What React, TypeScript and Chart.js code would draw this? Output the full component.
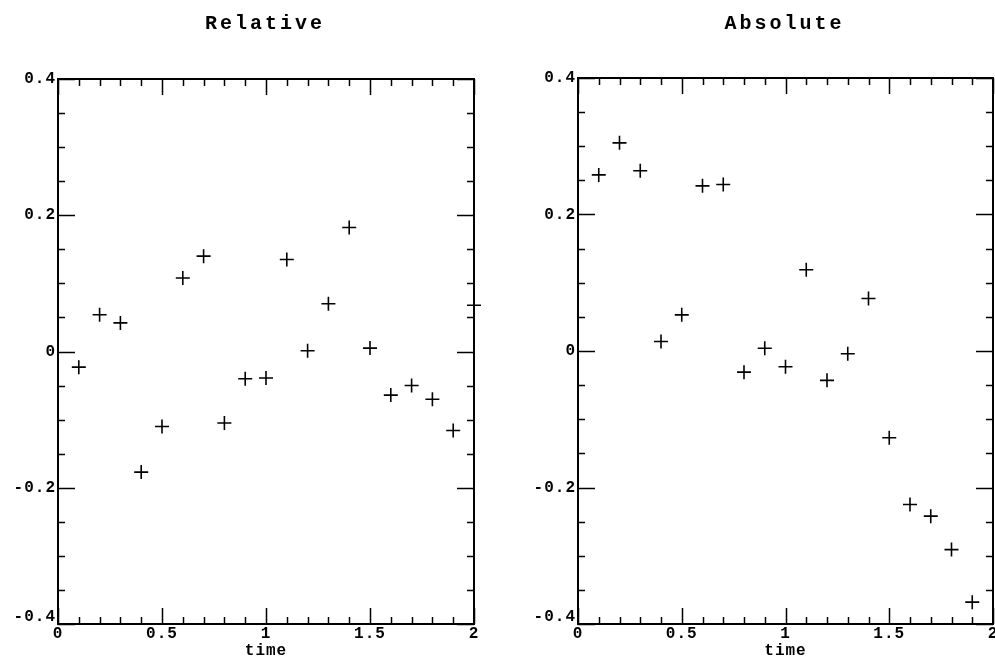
import React, { useEffect, useRef } from "react";
import { Chart, registerables } from "chart.js";

Chart.register(...registerables);

// ---- Data ----
const timeRelative = [0.1, 0.2, 0.3, 0.4, 0.5, 0.6, 0.7, 0.8, 0.9, 1.0, 1.1, 1.2, 1.3, 1.4, 1.5, 1.6, 1.7, 1.8, 1.9, 2.0];
const relativeValues = [-0.023, 0.054, 0.042, -0.177, -0.110, 0.108, 0.140, -0.105, -0.040, -0.039, 0.135, 0.001, 0.070, 0.182, 0.005, -0.064, -0.050, -0.070, -0.116, 0.068];

const timeAbsolute = [0.1, 0.2, 0.3, 0.4, 0.5, 0.6, 0.7, 0.8, 0.9, 1.0, 1.1, 1.2, 1.3, 1.4, 1.5, 1.6, 1.7, 1.8, 1.9];
const absoluteValues = [0.258, 0.305, 0.264, 0.014, 0.053, 0.242, 0.244, -0.031, 0.004, -0.023, 0.119, -0.043, -0.004, 0.077, -0.127, -0.225, -0.242, -0.291, -0.368];

const xMajorTicks = [0, 0.5, 1, 1.5, 2];
const xTickLabels = ["0", "0.5", "1", "1.5", "2"];
const yMajorTicks = [-0.4, -0.2, 0, 0.2, 0.4];
const yTickLabels = ["-0.4", "-0.2", "0", "0.2", "0.4"];
const xMinorStep = 0.1;
const yMinorStep = 0.05;
const panelTitles = ["Relative", "Absolute"];
const xAxisTitle = "time";

const FONT = '"Liberation Mono", "DejaVu Sans Mono", monospace';

const framePlugin = {
  id: "frameTicks",
  afterDraw(chart: any, _args: any, opts: any) {
    const ctx = chart.ctx;
    const { left, right, top, bottom } = chart.chartArea;
    const xs = chart.scales.x;
    const ys = chart.scales.y;
    ctx.save();
    ctx.strokeStyle = "#000";
    ctx.fillStyle = "#000";
    // frame
    ctx.lineWidth = 2;
    ctx.strokeRect(left, top, right - left, bottom - top);
    ctx.lineWidth = 1.5;
    // y ticks
    const nY = Math.round((ys.max - ys.min) / yMinorStep);
    for (let i = 0; i <= nY; i++) {
      const v = ys.min + i * yMinorStep;
      const major = yMajorTicks.some((m) => Math.abs(m - v) < 1e-6);
      const len = major ? 17 : 7;
      const py = Math.round(ys.getPixelForValue(v)) + 0.5;
      ctx.beginPath();
      ctx.moveTo(left, py);
      ctx.lineTo(left + len, py);
      ctx.moveTo(right, py);
      ctx.lineTo(right - len, py);
      ctx.stroke();
    }
    // x ticks
    const nX = Math.round((xs.max - xs.min) / xMinorStep);
    for (let i = 0; i <= nX; i++) {
      const v = xs.min + i * xMinorStep;
      const major = xMajorTicks.some((m) => Math.abs(m - v) < 1e-6);
      const len = major ? 16 : 7;
      const px = Math.round(xs.getPixelForValue(v)) + 0.5;
      ctx.beginPath();
      ctx.moveTo(px, bottom);
      ctx.lineTo(px, bottom - len);
      ctx.moveTo(px, top);
      ctx.lineTo(px, top + len);
      ctx.stroke();
    }
    // labels
    ctx.font = `bold 16px ${FONT}`;
    (ctx as any).letterSpacing = "1px";
    ctx.textAlign = "right";
    ctx.textBaseline = "middle";
    yMajorTicks.forEach((v, i) => {
      let py = ys.getPixelForValue(v);
      if (i === 0) py -= 7;
      ctx.fillText(yTickLabels[i], left - 2, py);
    });
    ctx.textAlign = "center";
    xMajorTicks.forEach((v, i) => {
      const px = xs.getPixelForValue(v);
      ctx.fillText(xTickLabels[i], px, bottom + 10);
    });
    ctx.fillText(xAxisTitle, (left + right) / 2, bottom + 27);
    // title
    ctx.font = `bold 20px ${FONT}`;
    (ctx as any).letterSpacing = "3px";
    ctx.fillText(opts.title, (left + right) / 2 - 1, 24);
    ctx.restore();
  },
};

function Panel(props: { title: string; xs: number[]; ys: number[]; left: number; width: number; padding: any }) {
  const ref = useRef<HTMLCanvasElement>(null);
  useEffect(() => {
    if (!ref.current) return;
    const chart = new Chart(ref.current, {
      type: "scatter",
      data: {
        datasets: [
          {
            data: props.xs.map((x, i) => ({ x, y: props.ys[i] })),
            pointStyle: "cross",
            pointRadius: 7,
            pointBorderWidth: 1.6,
            borderColor: "#000",
            backgroundColor: "#000",
            clip: false as any,
          },
        ],
      },
      options: {
        animation: false,
        responsive: false,
        devicePixelRatio: 1,
        layout: { padding: props.padding, autoPadding: false } as any,
        scales: {
          x: { type: "linear", min: 0, max: 2, display: false },
          y: { type: "linear", min: -0.4, max: 0.4, display: false },
        },
        plugins: {
          legend: { display: false },
          tooltip: { enabled: false },
          frameTicks: { title: props.title },
        } as any,
      },
      plugins: [framePlugin],
    });
    return () => chart.destroy();
  }, []);
  return (
    <canvas
      ref={ref}
      width={props.width}
      height={657}
      style={{ position: "absolute", left: props.left, top: 0, width: props.width, height: 657 }}
    />
  );
}

export default function App() {
  return (
    <div style={{ position: "fixed", left: 0, top: 0, width: 995, height: 657, background: "#fff", overflow: "hidden" }}>
      <Panel
        title={panelTitles[0]}
        xs={timeRelative}
        ys={relativeValues}
        left={0}
        width={497}
        padding={{ left: 58, right: 23, top: 79, bottom: 33 }}
      />
      <Panel
        title={panelTitles[1]}
        xs={timeAbsolute}
        ys={absoluteValues}
        left={497}
        width={498}
        padding={{ left: 81, right: 2, top: 78, bottom: 33 }}
      />
    </div>
  );
}
